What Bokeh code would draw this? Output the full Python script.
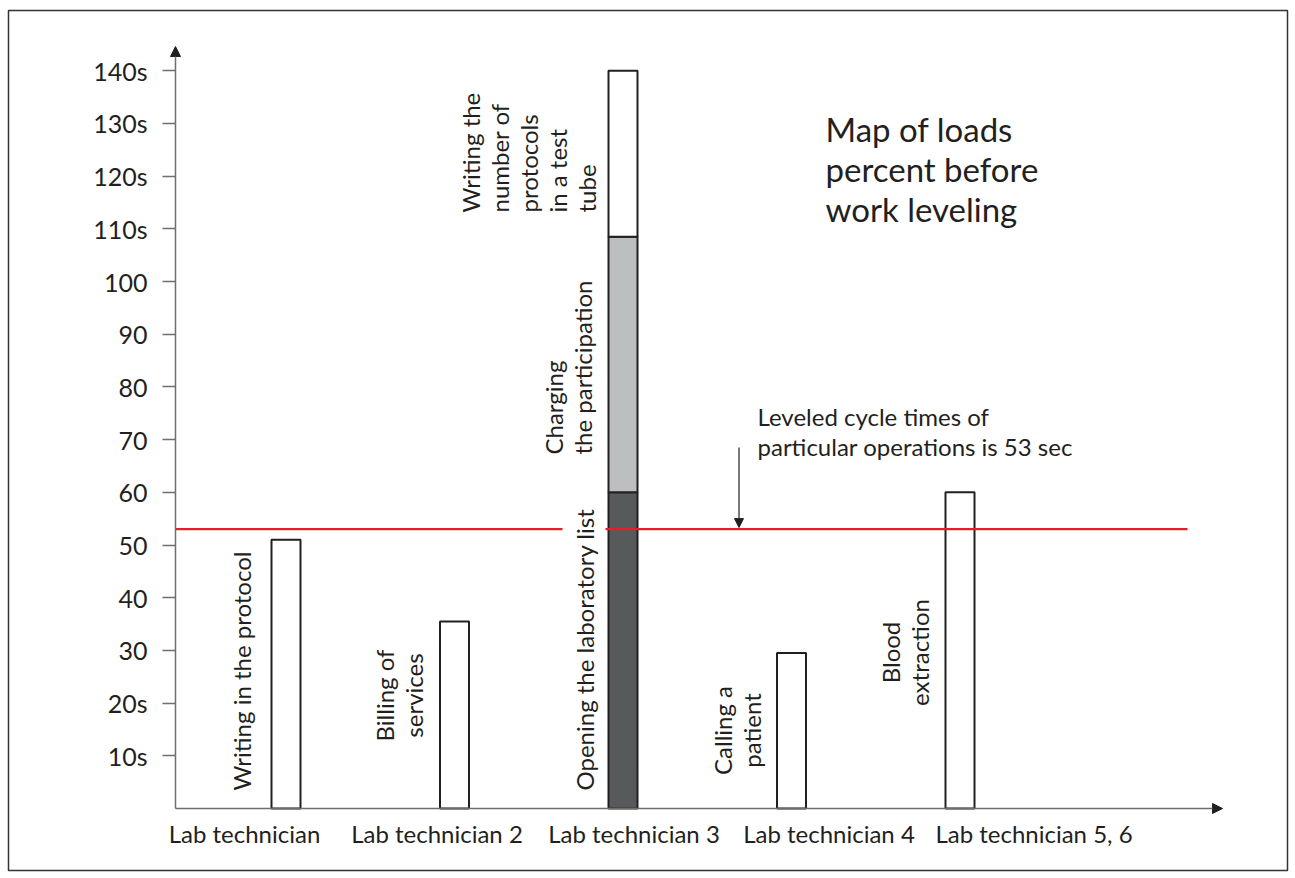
import math
from bokeh.plotting import figure
from bokeh.models import Range1d, FixedTicker, Arrow, NormalHead, Label, ColumnDataSource
from bokeh.core.properties import value
from bokeh.embed import file_html
from bokeh.resources import INLINE

# ---------------- data ----------------
workers = ["Lab technician", "Lab technician 2", "Lab technician 3",
           "Lab technician 4", "Lab technician 5, 6"]
single_workers = ["Lab technician", "Lab technician 2", "Lab technician 4", "Lab technician 5, 6"]
single_ops = ["Writing in the protocol", "Billing of\nservices", "Calling a\npatient", "Blood\nextraction"]
single_times = [51, 35.5, 29.5, 60]
stack_worker = "Lab technician 3"
stack_ops = ["Opening the laboratory list", "Charging\nthe participation",
             "Writing the\nnumber of\nprotocols\nin a test\ntube"]
stack_times = [60, 48.5, 31.5]
leveled_time = 53
y_ticks = [10, 20, 30, 40, 50, 60, 70, 80, 90, 100, 110, 120, 130, 140]
y_tick_labels = ["10s", "20s", "30", "40", "50", "60", "70", "80", "90", "100",
                 "110s", "120s", "130s", "140s"]
title_text = "Map of loads\npercent before\nwork leveling"
note_text = "Leveled cycle times of\nparticular operations is 53 sec"

# ---------------- layout / style ----------------
W, H = 1295, 878
FL, FR, FT, FB = 8, 1287, 10, 870          # outer frame box (px)
BAR0_PX, BAR_STEP_PX = 285.5, 168.5         # bar centre spacing (px)
ZERO_PX, PX_PER_UNIT = 808, 5.27            # y scale (px)
BAR_W = 29 / BAR_STEP_PX


def xd(px):
    return (px - BAR0_PX) / BAR_STEP_PX


def yd(py):
    return (ZERO_PX - py) / PX_PER_UNIT


AXIS_X = xd(175)
X_ARROW_END = xd(1222)
Y_ARROW_END = yd(46)
RED_END_X = xd(1187)
INK = "#231f20"
AXIS_GRAY = "#6d6e71"
FONT_NAME = "Lato"
FONT = value(FONT_NAME)
FS = "24px"
ROT_LH = 1.0
STACK_COLORS = ["#58595b", "#bcbec0", "#ffffff"]

p = figure(width=W, height=H, x_range=Range1d(xd(FL), xd(FR)), y_range=Range1d(yd(FB), yd(FT)),
           output_backend="svg", toolbar_location=None,
           min_border_left=FL, min_border_right=W - FR, min_border_top=FT, min_border_bottom=H - FB)
p.outline_line_color = "#333333"
p.outline_line_width = 1.5
p.grid.visible = False
p.xaxis.visible = False
p.background_fill_color = "white"
p.border_fill_color = "white"

ya = p.yaxis[0]
ya.fixed_location = AXIS_X
ya.ticker = FixedTicker(ticks=y_ticks)
ya.major_label_overrides = {t: l for t, l in zip(y_ticks, y_tick_labels)}
ya.axis_line_color = None
ya.major_tick_out = 13
ya.major_tick_in = 0
ya.minor_tick_out = 0
ya.minor_tick_in = 0
ya.major_tick_line_color = AXIS_GRAY
ya.major_tick_line_width = 1.5
ya.major_label_text_font = FONT_NAME
ya.major_label_text_font_size = "25px"
ya.major_label_text_color = INK
ya.major_label_standoff = 15

# bars
src = ColumnDataSource(dict(x=[workers.index(w) for w in single_workers], top=single_times))
p.vbar(x="x", top="top", bottom=0, width=BAR_W, source=src,
       fill_color="white", line_color=INK, line_width=2)
tops, bottoms, acc = [], [], 0
for t in stack_times:
    bottoms.append(acc)
    acc += t
    tops.append(acc)
sx = workers.index(stack_worker)
p.vbar(x=[sx] * len(stack_times), bottom=bottoms, top=tops, width=BAR_W,
       fill_color=STACK_COLORS, line_color=INK, line_width=2)

# leveled line
p.segment(x0=[AXIS_X], y0=[leveled_time], x1=[RED_END_X], y1=[leveled_time],
          line_color="#ec1c24", line_width=2.2)

# axes arrows
p.add_layout(Arrow(x_start=AXIS_X, y_start=0, x_end=AXIS_X, y_end=Y_ARROW_END,
                   line_color=AXIS_GRAY, line_width=1.5,
                   end=NormalHead(size=10, fill_color=INK, line_color=INK, line_width=1)))
p.add_layout(Arrow(x_start=AXIS_X, y_start=0, x_end=X_ARROW_END, y_end=0,
                   line_color=AXIS_GRAY, line_width=1.5,
                   end=NormalHead(size=10, fill_color=INK, line_color=INK, line_width=1)))

# operation labels on single bars
single_dx = [-44.5, -56, -55, -55]
single_py = [790, 695, 730, 652]
single_align = ["left", "center", "center", "center"]
for w, op, dx, py, al in zip(single_workers, single_ops, single_dx, single_py, single_align):
    p.text(x=[workers.index(w)], y=[yd(py)], text=[op], angle=math.pi / 2,
           x_offset=dx, text_align=al, text_baseline="middle",
           text_font=FONT, text_font_size=FS, text_color=INK, text_line_height=ROT_LH)

# stacked bar labels
PAD = 7
p.add_layout(Label(x=sx, y=yd(790 + PAD), x_offset=-39, text=stack_ops[0], angle=math.pi / 2,
                   text_align="left", text_baseline="middle", text_font=FONT_NAME,
                   text_font_size=FS, text_color=INK,
                   background_fill_color="white", padding=PAD))
stack_dx = [-55.5, -94.5]
stack_py = [454, 212]
for op, dx, py in zip(stack_ops[1:], stack_dx, stack_py):
    p.text(x=[sx], y=[yd(py)], text=[op], angle=math.pi / 2,
           x_offset=dx, text_align="left", text_baseline="middle",
           text_font=FONT, text_font_size=FS, text_color=INK, text_line_height=ROT_LH)

# worker labels
worker_dx = [-41.5, -17.5, 11, 37.5, 74]
p.text(x=list(range(len(workers))), y=[yd(833)] * len(workers), text=workers,
       x_offset=worker_dx, text_align="center", text_baseline="middle",
       text_font=FONT, text_font_size=FS, text_color=INK)

# title and note
p.text(x=[xd(825)], y=[yd(108)], text=[title_text], text_align="left", text_baseline="top",
       text_font=FONT, text_font_size="33px", text_color=INK, text_line_height=1.01)
p.text(x=[xd(757)], y=[yd(401)], text=[note_text], text_align="left", text_baseline="top",
       text_font=FONT, text_font_size=FS, text_color=INK, text_line_height=1.04)
p.add_layout(Arrow(x_start=xd(738.5), y_start=yd(447), x_end=xd(738.5), y_end=leveled_time + 0.3,
                   line_color=INK, line_width=1.2,
                   end=NormalHead(size=9, fill_color=INK, line_color=INK, line_width=1)))

open("out.html", "w").write(file_html(p, INLINE))
